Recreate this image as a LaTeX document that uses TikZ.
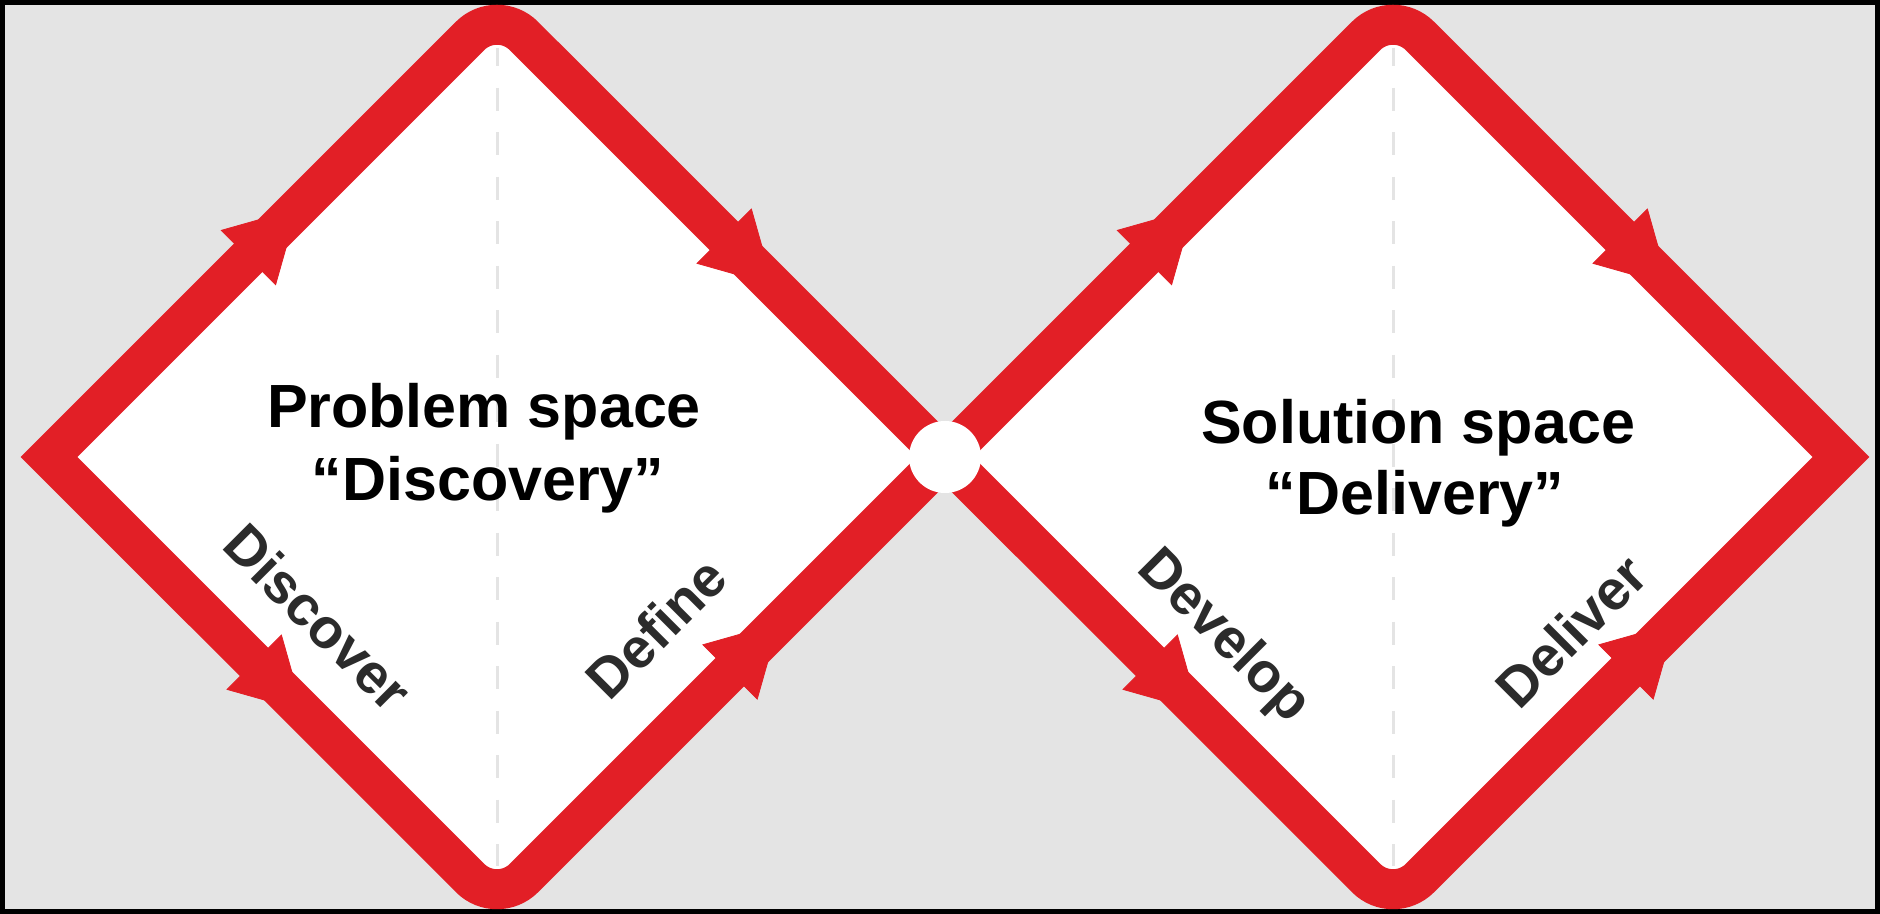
\documentclass[tikz,border=0pt]{standalone}
\usepackage{fontspec}
\setmainfont{Liberation Sans}
\usetikzlibrary{arrows.meta,decorations.markings}
\definecolor{ddred}{HTML}{E21F26}
\definecolor{bggray}{HTML}{E4E4E4}
\definecolor{dashgray}{HTML}{E4E4E4}
\definecolor{labelgray}{HTML}{2B2B2B}
\begin{document}
\begin{tikzpicture}[x=0.5pt,y=0.5pt,
    rim/.style={draw=ddred,line width=20pt,fill=white},
    midline/.style={dashgray,line width=1.5pt,dash pattern=on 11.5pt off 10.75pt,dash phase=2.25pt},
    flowtip/.style={decorate,decoration={markings,mark=at position #1 with {\arrow{Triangle[length=35pt,width=39pt,color=ddred]}}}},
    title/.style={font=\fontsize{30.5}{36}\selectfont\bfseries,anchor=base},
    stage/.style={font=\fontsize{28}{30}\selectfont\bfseries,text=labelgray}]
    \path[use as bounding box] (0,0) rectangle (1880,914);
    \fill[bggray] (0,0) rectangle (1880,914);
    \draw[line width=2.5pt] (2.5,2.5) rectangle (1877.5,911.5);
    \coordinate (L1) at (49,457);
    \coordinate (T1) at (497,905);
    \coordinate (B1) at (497,9);
    \coordinate (X) at (945,457);
    \coordinate (T2) at (1393,905);
    \coordinate (B2) at (1393,9);
    \coordinate (R2) at (1841,457);
    \path[rim] (L1) -- (470.1,878.1) arc[start angle=135,end angle=45,radius=19pt]
        -- (X) -- (523.9,35.9) arc[start angle=-45,end angle=-135,radius=19pt] -- cycle;
    \path[rim] (X) -- (1366.1,878.1) arc[start angle=135,end angle=45,radius=19pt]
        -- (R2) -- (1419.9,35.9) arc[start angle=-45,end angle=-135,radius=19pt] -- cycle;
    \draw[midline] (497,866) -- (497,48);
    \draw[midline] (1393,866) -- (1393,48);
    \path[flowtip=0.555] (L1) -- (T1);
    \path[flowtip=0.617] (T1) -- (X);
    \path[flowtip=0.568] (L1) -- (B1);
    \path[flowtip=0.63] (B1) -- (X);
    \path[flowtip=0.555] (X) -- (T2);
    \path[flowtip=0.617] (T2) -- (R2);
    \path[flowtip=0.568] (X) -- (B2);
    \path[flowtip=0.63] (B2) -- (R2);
    \node[circle,fill=white,minimum size=36pt,inner sep=0pt] (hub) at (X) {};
    \node[title] (prob) at (484,486) {Problem space};
    \node[title] (disc) at (488,413) {“Discovery”};
    \node[title] (sol) at (1418,470) {Solution space};
    \node[title] (deliv) at (1415,399) {“Delivery”};
    \node[stage,rotate=-45] (discover) at (318,297) {Discover};
    \node[stage,rotate=45] (define) at (656,286) {Define};
    \node[stage,rotate=-45] (develop) at (1223,277) {Develop};
    \node[stage,rotate=45] (deliver) at (1571,283) {Deliver};
\end{tikzpicture}
\end{document}
